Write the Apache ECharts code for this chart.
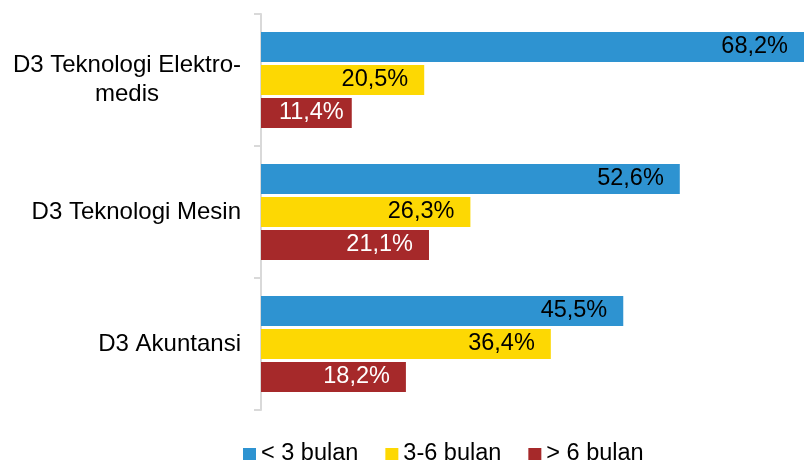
<!DOCTYPE html>
<html>
<head>
<meta charset="utf-8">
<script src="https://cdn.jsdelivr.net/npm/echarts@6/dist/echarts.min.js"></script>
<style>
html,body{margin:0;padding:0;background:#fff;}
#chart{width:804px;height:463px;}
</style>
</head>
<body>
<div id="chart"></div>
<script>
const categories = ['D3 Teknologi Elektro-\nmedis', 'D3 Teknologi Mesin', 'D3 Akuntansi'];
const seriesNames = ['< 3 bulan', '3-6 bulan', '> 6 bulan'];
const lessThan3 = [68.2, 52.6, 45.5];
const between3and6 = [20.5, 26.3, 36.4];
const moreThan6 = [11.4, 21.1, 18.2];

const FONT = '"Liberation Sans", Arial, sans-serif';
const colors = ['#2E93D1', '#FDD803', '#A6292A'];
const labelColors = ['#000', '#000', '#fff'];

const fmt = p => p.value.toFixed(1).replace('.', ',') + '%';

function mkSeries(name, data, idx) {
  return {
    name: name,
    type: 'bar',
    barWidth: 30,
    barGap: '10%',
    itemStyle: { color: colors[idx] },
    label: {
      show: true,
      position: 'insideRight',
      distance: 16,
      formatter: fmt,
      color: labelColors[idx],
      fontFamily: FONT,
      fontSize: 23.5
    },
    data: data.map((v, i) => (idx === 2 && i === 0) ? { value: v, label: { distance: 8 } } : v)
  };
}

const chart = echarts.init(document.getElementById('chart'));
chart.setOption({
  animation: false,
  textStyle: { fontFamily: FONT },
  grid: { left: 261, right: 0, top: 14, bottom: 53, containLabel: false },
  legend: {
    data: seriesNames,
    left: 243,
    top: 442,
    padding: 0,
    icon: 'rect',
    itemWidth: 13,
    itemHeight: 12,
    itemGap: 27,
    textStyle: { fontFamily: FONT, fontSize: 23.5, color: '#000', lineHeight: 23 }
  },
  xAxis: {
    type: 'value',
    min: 0,
    max: 68.2,
    show: false
  },
  yAxis: {
    type: 'category',
    inverse: true,
    data: categories,
    axisLine: { show: true, lineStyle: { color: '#D9D9D9', width: 2 } },
    axisTick: { show: true, length: 7, lineStyle: { color: '#D9D9D9', width: 2 } },
    axisLabel: {
      margin: 20,
      color: '#000',
      fontFamily: FONT,
      fontSize: 24,
      lineHeight: 29,
      formatter: v => v.split('\n').map(s => '{c|' + s + '}').join('\n'),
      rich: {
        c: { align: 'center', fontFamily: FONT, fontSize: 24, lineHeight: 29, color: '#000' }
      }
    },
    splitLine: { show: false }
  },
  series: [
    mkSeries(seriesNames[0], lessThan3, 0),
    mkSeries(seriesNames[1], between3and6, 1),
    mkSeries(seriesNames[2], moreThan6, 2)
  ]
});
</script>
</body>
</html>
